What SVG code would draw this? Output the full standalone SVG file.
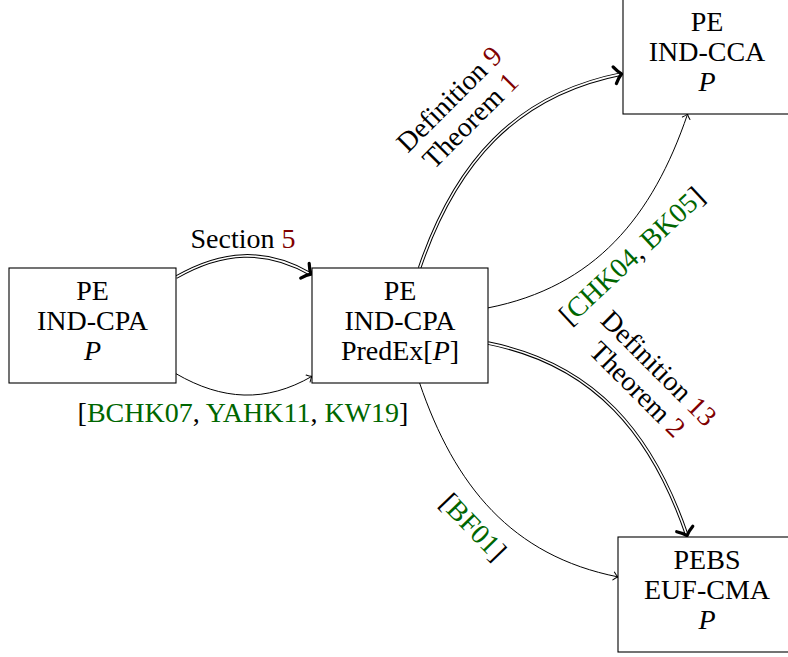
<svg xmlns="http://www.w3.org/2000/svg" width="788" height="657" viewBox="0 0 788 657">
<style>
text{font-family:"Liberation Serif","Times New Roman",serif;font-size:28px;fill:#000;text-anchor:middle}
.r{fill:#800000}
.g{fill:#006600}
.it{font-style:italic}
.box{fill:#fff;stroke:#000;stroke-width:1.1}
.dbo{fill:none;stroke:#000;stroke-width:3.6}
.dbi{fill:none;stroke:#fff;stroke-width:1.6;marker-end:url(#imp)}
.sg{fill:none;stroke:#000;stroke-width:1;marker-end:url(#to)}
</style>
<defs>
<marker id="imp" markerUnits="userSpaceOnUse" orient="auto" overflow="visible" markerWidth="1" markerHeight="1" refX="0" refY="0">
<path d="M-7,-8.5 C-4.5,-4.5 -1.5,-1.2 0,0 C-1.5,1.2 -4.5,4.5 -7,8.5" fill="none" stroke="#000" stroke-width="3.2" stroke-linecap="round" stroke-linejoin="round"/>
</marker>
<marker id="to" markerUnits="userSpaceOnUse" orient="auto" overflow="visible" markerWidth="1" markerHeight="1" refX="0" refY="0">
<path d="M-4.5,-4 C-2.5,-1.6 -0.8,-0.4 0,0 C-0.8,0.4 -2.5,1.6 -4.5,4" fill="none" stroke="#000" stroke-width="1" stroke-linecap="round"/>
</marker>
</defs>
<g id="connectors">
<path class="dbo" d="M176,277.3 C222.2,250.6 265.8,248.1 311,274.2"/>
<path class="dbi" d="M176,277.3 C222.2,250.6 265.8,248.1 311,274.2"/>
<path class="sg" d="M176,373.7 C222.2,400.4 265.8,403 312,376.3"/>
<path class="dbo" d="M419.6,268 C455.1,163.7 514.9,95 621.6,73.9"/>
<path class="dbi" d="M419.6,268 C455.1,163.7 514.9,95 621.6,73.9"/>
<path class="sg" d="M488,307.9 C594.9,286.8 652.5,217.1 687.6,114"/>
<path class="dbo" d="M488,343.1 C594.8,364.2 652.3,434 687,535.6"/>
<path class="dbi" d="M488,343.1 C594.8,364.2 652.3,434 687,535.6"/>
<path class="sg" d="M419.6,383 C454.6,485.7 511.5,555.8 618,576.9"/>
<text x="243" y="248">Section <tspan class="r">5</tspan></text>
<text x="243" y="422">[<tspan class="g">BCHK07</tspan>, <tspan class="g">YAHK11</tspan>, <tspan class="g">KW19</tspan>]</text>
<g transform="translate(460,110) rotate(-45)">
<text x="0" y="-6">Definition <tspan class="r">9</tspan></text>
<text x="0" y="24">Theorem <tspan class="r">1</tspan></text>
</g>
<text transform="translate(632,256) rotate(-43)" x="0" y="9">[<tspan class="g">CHK04</tspan>, <tspan class="g">BK05</tspan>]</text>
<g transform="translate(648,379) rotate(45)">
<text x="0" y="-6">Definition <tspan class="r">13</tspan></text>
<text x="0" y="24">Theorem <tspan class="r">2</tspan></text>
</g>
<text transform="translate(473,527) rotate(46)" x="0" y="9">[<tspan class="g">BF01</tspan>]</text>
</g>
<g id="nodeA">
<rect class="box" x="9" y="268" width="167" height="115"/>
<text x="92.5" y="300">PE</text>
<text x="92.5" y="330">IND-CPA</text>
<text x="92.5" y="360" class="it">P</text>
</g>
<g id="nodeB">
<rect class="box" x="312" y="268" width="176" height="115"/>
<text x="400" y="300">PE</text>
<text x="400" y="330">IND-CPA</text>
<text x="400" y="360">PredEx[<tspan class="it">P</tspan>]</text>
</g>
<g id="nodeC">
<rect class="box" x="623" y="-1" width="168" height="115"/>
<text x="707" y="31">PE</text>
<text x="707" y="61">IND-CCA</text>
<text x="707" y="91" class="it">P</text>
</g>
<g id="nodeD">
<rect class="box" x="618" y="537" width="178" height="115"/>
<text x="707" y="569">PEBS</text>
<text x="707" y="599">EUF-CMA</text>
<text x="707" y="629" class="it">P</text>
</g>
</svg>
